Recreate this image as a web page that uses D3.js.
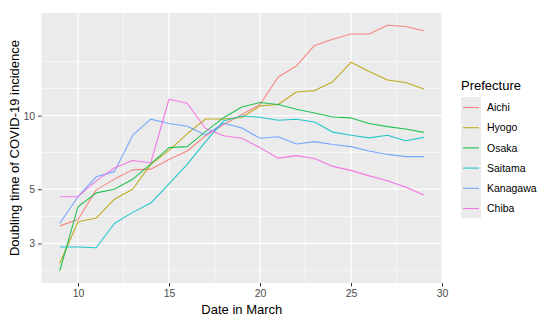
<!DOCTYPE html>
<html>
<head>
<meta charset="utf-8">
<script src="https://cdn.jsdelivr.net/npm/d3@7"></script>
<style>
  body { margin: 0; background: #fff; }
  text { font-family: "Liberation Sans", Arial, sans-serif; }
</style>
</head>
<body>
<div id="chart"></div>
<script>
// days of March on the x axis
var days = [9, 10, 11, 12, 13, 14, 15, 16, 17, 18, 19, 20, 21, 22, 23, 24, 25, 26, 27, 28, 29];

// doubling time per prefecture
var aichi    = [3.54, 3.76, 4.97, 5.50, 6.00, 6.04, 6.62, 7.17, 8.26, 9.20, 10.11, 11.11, 14.40, 15.97, 19.37, 20.55, 21.59, 21.59, 23.43, 23.17, 22.24];
var hyogo    = [2.49, 3.68, 3.81, 4.55, 5.00, 6.32, 7.21, 8.42, 9.69, 9.69, 9.83, 10.96, 11.11, 12.50, 12.66, 13.77, 16.53, 15.16, 14.00, 13.67, 12.86];
var osaka    = [2.32, 4.24, 4.83, 5.00, 5.49, 6.35, 7.40, 7.47, 8.60, 9.81, 10.85, 11.32, 11.11, 10.62, 10.26, 9.88, 9.79, 9.29, 9.02, 8.82, 8.54];
var saitama  = [2.90, 2.90, 2.88, 3.62, 4.02, 4.39, 5.26, 6.32, 7.81, 9.51, 9.97, 9.85, 9.57, 9.67, 9.42, 8.56, 8.31, 8.11, 8.32, 7.90, 8.15];
var kanagawa = [3.63, 4.66, 5.62, 5.90, 8.30, 9.68, 9.29, 9.05, 8.34, 9.31, 8.91, 8.08, 8.20, 7.66, 7.83, 7.62, 7.47, 7.17, 6.94, 6.80, 6.80];
var chiba    = [4.66, 4.66, 5.41, 6.11, 6.55, 6.42, 11.67, 11.24, 8.86, 8.28, 8.08, 7.40, 6.70, 6.86, 6.68, 6.20, 5.97, 5.67, 5.42, 5.10, 4.74];

var prefectures = ["Aichi", "Hyogo", "Osaka", "Saitama", "Kanagawa", "Chiba"];
var colors = ["#F8766D", "#B79F00", "#00BA38", "#00BFC4", "#619CFF", "#F564E3"];

// axis breaks
var xTicks = [10, 15, 20, 25, 30];
var xMinor = [12.5, 17.5, 22.5, 27.5];
var yTicks = [3, 5, 10];
var yMinor = [2.32, 3.87, 7.07, 12.91, 16.67];

function initialize(){
    var series = [aichi, hyogo, osaka, saitama, kanagawa, chiba].map(function(vals, i){
        return {
            name: prefectures[i],
            color: colors[i],
            values: vals.map(function(v, j){ return {day: days[j], value: v}; })
        };
    });
    createChart(series);
};

function createChart(series){
    var width = 550,
        height = 320,
        panel = {left: 41.6, top: 13, right: 442, bottom: 283};

    var svg = d3.select("#chart")
        .append("svg")
        .attr("width", width)
        .attr("height", height);

    // x scale with ggplot style 5% expansion
    var xExt = d3.extent(days),
        xPad = (xExt[1] - xExt[0]) * 0.05;
    var x = d3.scaleLinear()
        .domain([xExt[0] - xPad, xExt[1] + xPad])
        .range([panel.left, panel.right]);

    // log y scale, expansion done in log space
    var allVals = [];
    series.forEach(function(s){ s.values.forEach(function(d){ allVals.push(d.value); }); });
    var lo = Math.log10(d3.min(allVals)),
        hi = Math.log10(d3.max(allVals)),
        yPad = (hi - lo) * 0.05;
    var y = d3.scaleLog()
        .domain([Math.pow(10, lo - yPad), Math.pow(10, hi + yPad)])
        .range([panel.bottom, panel.top]);

    // panel background
    svg.append("rect")
        .attr("x", panel.left)
        .attr("y", panel.top)
        .attr("width", panel.right - panel.left)
        .attr("height", panel.bottom - panel.top)
        .attr("fill", "#EBEBEB");

    // minor grid
    svg.selectAll(".xminor").data(xMinor).enter().append("line")
        .attr("x1", function(d){ return x(d); })
        .attr("x2", function(d){ return x(d); })
        .attr("y1", panel.top).attr("y2", panel.bottom)
        .attr("stroke", "#fff").attr("stroke-width", 0.6);
    svg.selectAll(".yminor").data(yMinor).enter().append("line")
        .attr("y1", function(d){ return y(d); })
        .attr("y2", function(d){ return y(d); })
        .attr("x1", panel.left).attr("x2", panel.right)
        .attr("stroke", "#fff").attr("stroke-width", 0.6);

    // major grid
    svg.selectAll(".xmajor").data(xTicks).enter().append("line")
        .attr("x1", function(d){ return x(d); })
        .attr("x2", function(d){ return x(d); })
        .attr("y1", panel.top).attr("y2", panel.bottom)
        .attr("stroke", "#fff").attr("stroke-width", 1.2);
    svg.selectAll(".ymajor").data(yTicks).enter().append("line")
        .attr("y1", function(d){ return y(d); })
        .attr("y2", function(d){ return y(d); })
        .attr("x1", panel.left).attr("x2", panel.right)
        .attr("stroke", "#fff").attr("stroke-width", 1.2);

    // axes
    var xAxis = d3.axisBottom(x)
        .tickValues(xTicks)
        .tickSize(3.5)
        .tickPadding(3)
        .tickFormat(d3.format("d"));
    var gx = svg.append("g")
        .attr("transform", "translate(0," + panel.bottom + ")")
        .call(xAxis);

    var yAxis = d3.axisLeft(y)
        .tickValues(yTicks)
        .tickSize(3.5)
        .tickPadding(3)
        .tickFormat(d3.format("d"));
    var gy = svg.append("g")
        .attr("transform", "translate(" + panel.left + ",0)")
        .call(yAxis);

    [gx, gy].forEach(function(g){
        g.select(".domain").remove();
        g.selectAll(".tick line").attr("stroke", "#333333").attr("stroke-width", 1);
        g.selectAll(".tick text")
            .attr("fill", "#4D4D4D")
            .style("font-size", "10.5px")
            .style("font-family", "'Liberation Sans', Arial, sans-serif");
    });

    // lines
    var line = d3.line()
        .x(function(d){ return x(d.day); })
        .y(function(d){ return y(d.value); });

    svg.selectAll(".series").data(series).enter().append("path")
        .attr("class", "series")
        .attr("d", function(d){ return line(d.values); })
        .attr("fill", "none")
        .attr("stroke", function(d){ return d.color; })
        .attr("stroke-width", 1.1)
        .attr("stroke-opacity", 0.85)
        .attr("stroke-linejoin", "round");

    // axis titles
    svg.append("text")
        .attr("x", (panel.left + panel.right) / 2)
        .attr("y", 314)
        .attr("text-anchor", "middle")
        .style("font-size", "13px")
        .attr("fill", "#000")
        .text("Date in March");

    svg.append("text")
        .attr("transform", "translate(19," + ((panel.top + panel.bottom) / 2) + ") rotate(-90)")
        .attr("text-anchor", "middle")
        .style("font-size", "13px")
        .attr("fill", "#000")
        .text("Doubling time of COVID-19 incidence");

    // legend
    var legend = svg.append("g")
        .attr("transform", "translate(461,97)");

    legend.append("text")
        .attr("x", 0)
        .attr("y", -7)
        .style("font-size", "13px")
        .attr("fill", "#000")
        .text("Prefecture");

    var item = legend.selectAll(".item").data(series).enter().append("g")
        .attr("transform", function(d, i){ return "translate(0," + (i * 20.2) + ")"; });

    item.append("rect")
        .attr("width", 20)
        .attr("height", 20.2)
        .attr("fill", "#EBEBEB");
    item.append("line")
        .attr("x1", 2).attr("x2", 18)
        .attr("y1", 10.5).attr("y2", 10.5)
        .attr("stroke", function(d){ return d.color; })
        .attr("stroke-width", 1.1)
        .attr("stroke-opacity", 0.85);
    item.append("text")
        .attr("x", 26)
        .attr("y", 14.3)
        .style("font-size", "10.5px")
        .attr("fill", "#000")
        .text(function(d){ return d.name; });
};

initialize();
</script>
</body>
</html>
